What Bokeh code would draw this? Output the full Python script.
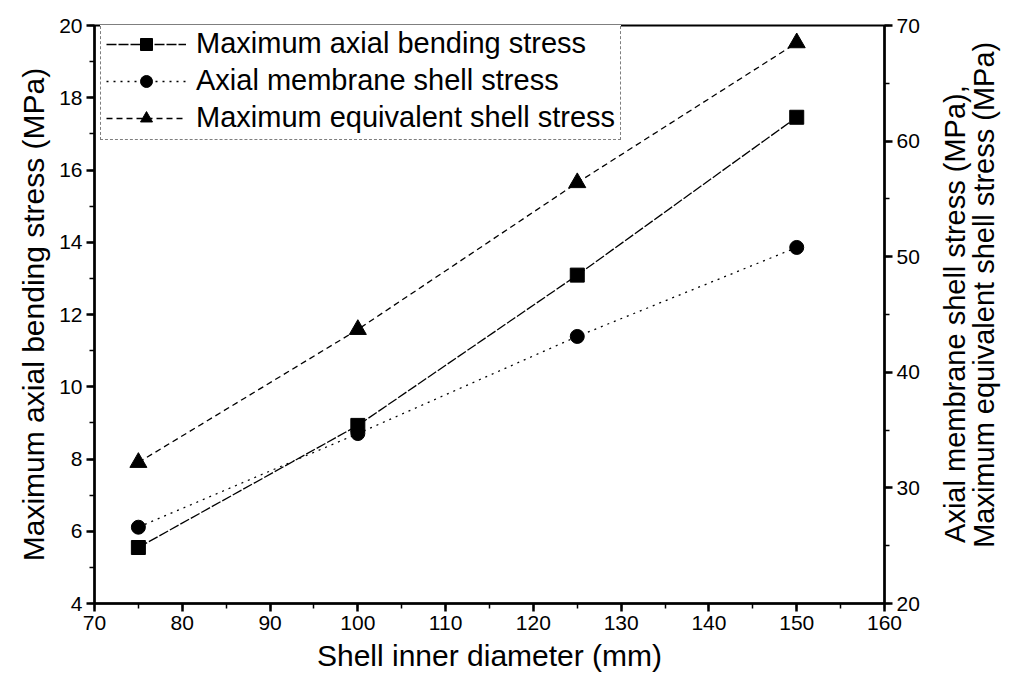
import math
from bokeh.plotting import figure
from bokeh.layouts import row
from bokeh.models import Range1d, LinearAxis, Legend, LegendItem
from bokeh.core.properties import value
from bokeh.embed import file_html
from bokeh.resources import INLINE

diameter = [75, 100, 125, 150]
axial_bending = [5.55, 8.93, 13.09, 17.46]
membrane_shell = [26.6, 34.7, 43.1, 50.8]
equivalent_shell = [32.2, 43.7, 56.4, 68.5]

right_label_lines = ["Axial membrane shell stress (MPa),", "Maximum equivalent shell stress (MPa)"]

FONT = "Liberation Sans"

p = figure(width=940, height=691, output_backend="svg", toolbar_location=None,
           x_range=Range1d(70, 160), y_range=Range1d(4, 20),
           min_border_left=94, min_border_right=56, min_border_top=25, min_border_bottom=88)
p.extra_y_ranges = {"right": Range1d(20, 70)}
p.grid.visible = False
p.outline_line_color = "black"
p.outline_line_width = 2
p.background_fill_color = "white"
p.border_fill_color = "white"

r_axis = LinearAxis(y_range_name="right")
p.add_layout(r_axis, "right")

for ax in [p.xaxis[0], p.yaxis[0], r_axis]:
    ax.axis_line_width = 2.5
    ax.major_tick_line_width = 2.5
    ax.minor_tick_line_width = 1.5
    ax.major_tick_out = 8
    ax.major_tick_in = 0
    ax.minor_tick_out = 5
    ax.minor_tick_in = 0
    ax.major_label_text_font = FONT
    ax.major_label_text_font_size = "21px"
    ax.major_label_text_color = "black"
    ax.major_label_standoff = 4
    ax.axis_label_text_font = FONT
    ax.axis_label_text_font_size = "30px"
    ax.axis_label_text_font_style = "normal"
    ax.axis_label_text_color = "black"

p.xaxis[0].ticker.desired_num_ticks = 10
p.xaxis[0].ticker.num_minor_ticks = 2
p.yaxis[0].ticker.desired_num_ticks = 9
p.yaxis[0].ticker.num_minor_ticks = 2
r_axis.ticker.desired_num_ticks = 6
r_axis.ticker.num_minor_ticks = 2

p.xaxis[0].axis_label = "Shell inner diameter (mm)"
p.xaxis[0].axis_label_standoff = 6
p.yaxis[0].axis_label = "Maximum axial bending stress (MPa)"
p.yaxis[0].axis_label_standoff = 6

l1 = p.line(diameter, axial_bending, line_color="black", line_width=1.3, line_dash="10 2")
m1 = p.scatter(diameter, axial_bending, marker="square", size=14, color="black")
l2 = p.line(diameter, membrane_shell, y_range_name="right", line_color="black", line_width=1.3, line_dash="2 5")
m2 = p.scatter(diameter, membrane_shell, y_range_name="right", marker="circle", size=14, color="black")
l3 = p.line(diameter, equivalent_shell, y_range_name="right", line_color="black", line_width=1.3, line_dash="6 4")
m3 = p.scatter(diameter, equivalent_shell, y_range_name="right", marker="triangle", size=17, color="black")

legend = Legend(items=[
    LegendItem(label="Maximum axial bending stress", renderers=[l1, m1]),
    LegendItem(label="Axial membrane shell stress", renderers=[l2, m2]),
    LegendItem(label="Maximum equivalent shell stress", renderers=[l3, m3]),
], location=(6, 463))
legend.label_text_font = FONT
legend.label_text_font_size = "29px"
legend.label_text_color = "black"
legend.label_text_line_height = 1.0
legend.glyph_width = 80
legend.glyph_height = 30
legend.label_height = 30
legend.label_standoff = 10
legend.spacing = 4
legend.padding = 5
legend.border_line_color = "black"
legend.border_line_width = 1.5
legend.border_line_dash = "3 1"
legend.background_fill_alpha = 1
p.add_layout(legend)

# side strip holding the two-line right-hand axis title (reads bottom-to-top)
p2 = figure(width=87, height=691, output_backend="svg", toolbar_location=None,
            x_range=Range1d(0, 87), y_range=Range1d(0, 691),
            min_border_left=0, min_border_right=0, min_border_top=0, min_border_bottom=0)
p2.axis.visible = False
p2.grid.visible = False
p2.outline_line_color = None
p2.background_fill_color = "white"
p2.border_fill_color = "white"
p2.text(x=[14, 43], y=[346, 369], text=right_label_lines, angle=math.pi / 2,
        text_align="center", text_baseline="middle", text_color="black",
        text_font=value(FONT), text_font_size=value("29px"))

layout = row(p, p2, spacing=0)
open("out.html", "w").write(file_html(layout, INLINE))
